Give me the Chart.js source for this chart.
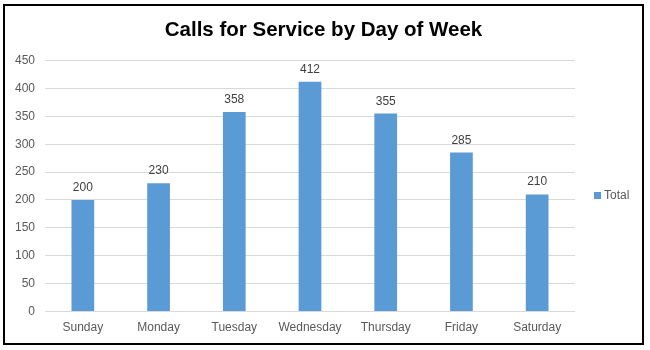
<!DOCTYPE html>
<html>
<head>
<meta charset="utf-8">
<title>Calls for Service by Day of Week</title>
<script src="https://cdn.jsdelivr.net/npm/chart.js@4.4.1/dist/chart.umd.min.js"></script>
<style>
  body { margin: 0; background: #fff; }
  .chart-box {
    position: absolute;
    left: 3px;
    top: 4px;
    width: 641px;
    height: 341px;
    border: 2px solid #000;
    box-sizing: border-box;
    background: #fff;
  }
</style>
</head>
<body>
<div class="chart-box">
  <canvas id="bar"></canvas>
</div>
<script>
const days = ['Sunday', 'Monday', 'Tuesday', 'Wednesday', 'Thursday', 'Friday', 'Saturday'];
const totals = [200, 230, 358, 412, 355, 285, 210];
const seriesName = 'Total';
const yMax = 450;
const yStep = 50;

const labelFont = { family: "'Liberation Sans', Arial, sans-serif", size: 12 };

// value above each bar
const valueLabels = {
  id: 'valueLabels',
  afterDatasetsDraw(chart) {
    const c = chart.ctx;
    const meta = chart.getDatasetMeta(0);
    c.save();
    c.font = '12px ' + labelFont.family;
    c.fillStyle = '#404040';
    c.textAlign = 'center';
    c.textBaseline = 'alphabetic';
    meta.data.forEach(function (bar, i) {
      c.fillText(chart.data.datasets[0].data[i], bar.x, bar.y - 9);
    });
    c.restore();
  }
};

// small legend in the empty strip right of the plot
const sideLegend = {
  id: 'sideLegend',
  afterDraw(chart) {
    const c = chart.ctx;
    const ds = chart.data.datasets[0];
    const x = chart.chartArea.right + 19;
    const y = 189.5;
    c.save();
    c.fillStyle = ds.backgroundColor;
    c.fillRect(x, y - 3.5, 7, 7);
    c.font = '12px ' + labelFont.family;
    c.fillStyle = '#595959';
    c.textAlign = 'left';
    c.textBaseline = 'middle';
    c.fillText(ds.label, x + 10, y);
    c.restore();
  }
};

const ctx = document.getElementById('bar');
new Chart(ctx, {
  type: 'bar',
  data: {
    labels: days,
    datasets: [{
      label: seriesName,
      data: totals,
      backgroundColor: '#5B9BD5',
      borderWidth: 0,
      barPercentage: 0.3,
      categoryPercentage: 1.0
    }]
  },
  options: {
    responsive: true,
    maintainAspectRatio: false,
    animation: false,
    layout: {
      padding: 0
    },
    plugins: {
      legend: { display: false },
      tooltip: { enabled: false },
      title: {
        display: true,
        text: 'Calls for Service by Day of Week',
        color: '#000',
        font: { family: labelFont.family, size: 20.5, weight: 'bold', lineHeight: 1.2 },
        padding: { top: 12, bottom: 18 }
      }
    },
    scales: {
      y: {
        min: 0,
        max: yMax,
        beginAtZero: true,
        ticks: {
          stepSize: yStep,
          color: '#595959',
          font: labelFont,
          padding: 10
        },
        grid: {
          color: '#D9D9D9',
          drawTicks: false
        },
        border: { display: false },
        afterFit(scale) { scale.width = 40; }
      },
      // empty axis that only reserves room for the legend, so the title stays centred on the whole box
      legendSpace: {
        type: 'linear',
        position: 'right',
        ticks: { display: false },
        grid: { display: false, drawTicks: false },
        border: { display: false },
        afterFit(scale) { scale.width = 67; }
      },
      x: {
        ticks: {
          color: '#595959',
          font: labelFont,
          padding: 9,
          maxRotation: 0
        },
        grid: {
          display: false,
          drawTicks: false
        },
        border: { display: false },
        afterFit(scale) { scale.height = 31.5; }
      }
    }
  },
  plugins: [valueLabels, sideLegend]
});
</script>
</body>
</html>
